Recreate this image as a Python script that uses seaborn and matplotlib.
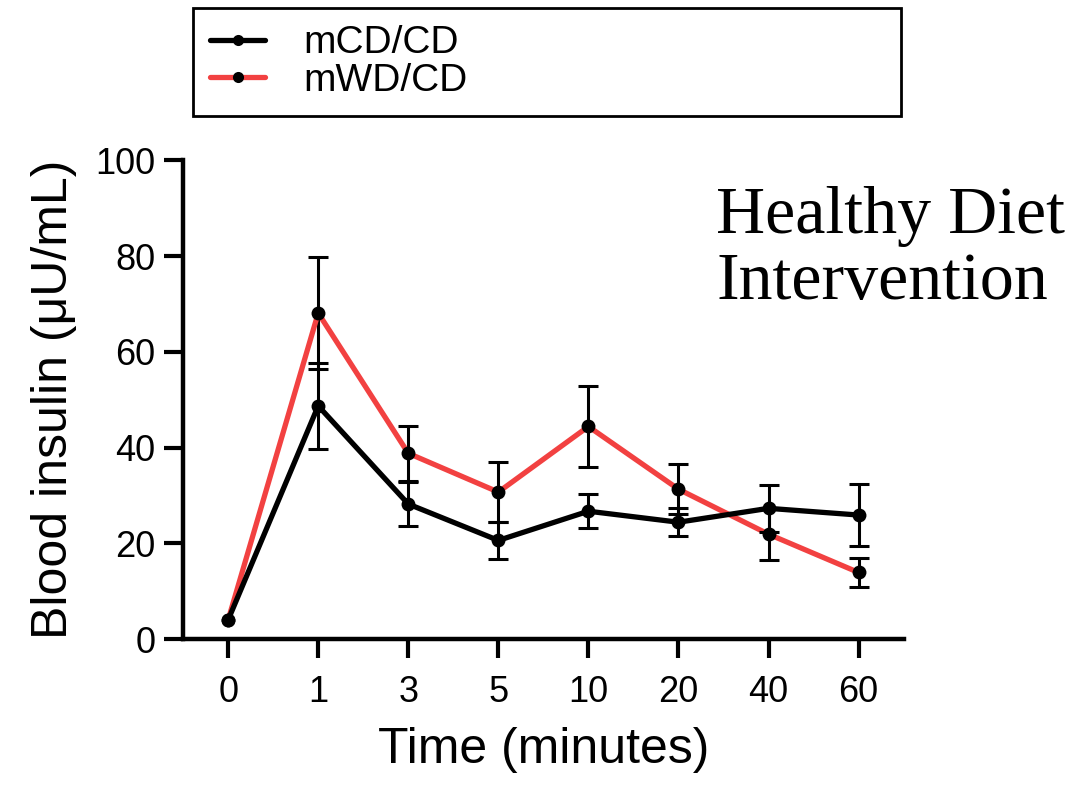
import pandas as pd
import numpy as np
import matplotlib
matplotlib.use('Agg')
import matplotlib.pyplot as plt
import seaborn as sns

# Blood insulin after glucose challenge
time_labels = ['0', '1', '3', '5', '10', '20', '40', '60']
groups = ['mCD/CD', 'mWD/CD']
mcd_mean = [4.0, 48.7, 28.2, 20.6, 26.7, 24.4, 27.3, 25.9]
mcd_err = [0.0, 9.0, 4.6, 3.8, 3.5, 2.9, 4.9, 6.5]
mwd_mean = [4.0, 68.1, 38.8, 30.7, 44.4, 31.3, 21.9, 13.9]
mwd_err = [0.0, 11.7, 5.8, 6.2, 8.4, 5.2, 5.4, 3.0]

colors = {'mCD/CD': '#000000', 'mWD/CD': '#F24141'}

pos = np.arange(len(time_labels))
df = pd.concat([
    pd.DataFrame({'pos': pos, 'insulin': mcd_mean, 'err': mcd_err, 'group': 'mCD/CD'}),
    pd.DataFrame({'pos': pos, 'insulin': mwd_mean, 'err': mwd_err, 'group': 'mWD/CD'}),
])

sns.set_style('ticks', {'axes.edgecolor': 'black', 'text.color': 'black',
                        'axes.labelcolor': 'black', 'xtick.color': 'black',
                        'ytick.color': 'black'})
plt.rcParams['font.family'] = ['Liberation Sans', 'DejaVu Sans']

fig = plt.figure(figsize=(10.9, 7.86), dpi=100)
ax = fig.add_axes([0.168, 0.187, 0.661, 0.609])

# red drawn first so black sits on top
for g, z in [('mWD/CD', 2), ('mCD/CD', 3)]:
    d = df[df['group'] == g]
    e = d[d['err'] > 0]
    ax.errorbar(e['pos'], e['insulin'], yerr=e['err'], fmt='none', ecolor='black',
                elinewidth=2.2, capsize=7, capthick=2.2, zorder=z)
    sns.lineplot(data=d, x='pos', y='insulin', color=colors[g], linewidth=3.8,
                 marker='o', markersize=10, markeredgewidth=0, markerfacecolor='black',
                 ax=ax, zorder=z + 0.5, legend=False)

ax.set_xlim(-0.5, 7.5)
ax.set_ylim(0, 100)
ax.set_xticks(pos)
ax.set_xticklabels(time_labels)
ax.set_yticks([0, 20, 40, 60, 80, 100])
ax.tick_params(axis='both', labelsize=26, width=3, length=14, pad=6, colors='black')
ax.tick_params(axis='x', pad=12)
for s in ['left', 'bottom']:
    ax.spines[s].set_linewidth(3.2)
    ax.spines[s].set_color('black')
sns.despine(ax=ax)
ax.set_xlabel('Time (minutes)', fontsize=36, labelpad=12, color='black')
ax.set_ylabel('Blood insulin (\u03bcU/mL)', fontsize=36, labelpad=13, color='black')

fig.text(0.657, 0.683, 'Healthy Diet\nIntervention', fontsize=49, color='black',
         family=['Liberation Serif', 'DejaVu Serif'], ha='left', va='center',
         linespacing=1.1)

handles = [plt.Line2D([], [], color=colors[g], linewidth=3.8, marker='o', markersize=8,
                      markerfacecolor='black', markeredgewidth=0) for g in groups]
leg = fig.legend(handles, groups, loc='upper left', bbox_to_anchor=(0.177, 0.99, 0.65, 0.0),
                 mode='expand', fontsize=28, frameon=True, fancybox=False, framealpha=1,
                 handlelength=1.4, labelspacing=0.03, borderpad=0.45, handletextpad=1.0,
                 borderaxespad=0)
for t in leg.get_texts():
    t.set_color('black')
leg.get_frame().set_edgecolor('black')
leg.get_frame().set_linewidth(2)

fig.savefig('out.png', dpi=100)
